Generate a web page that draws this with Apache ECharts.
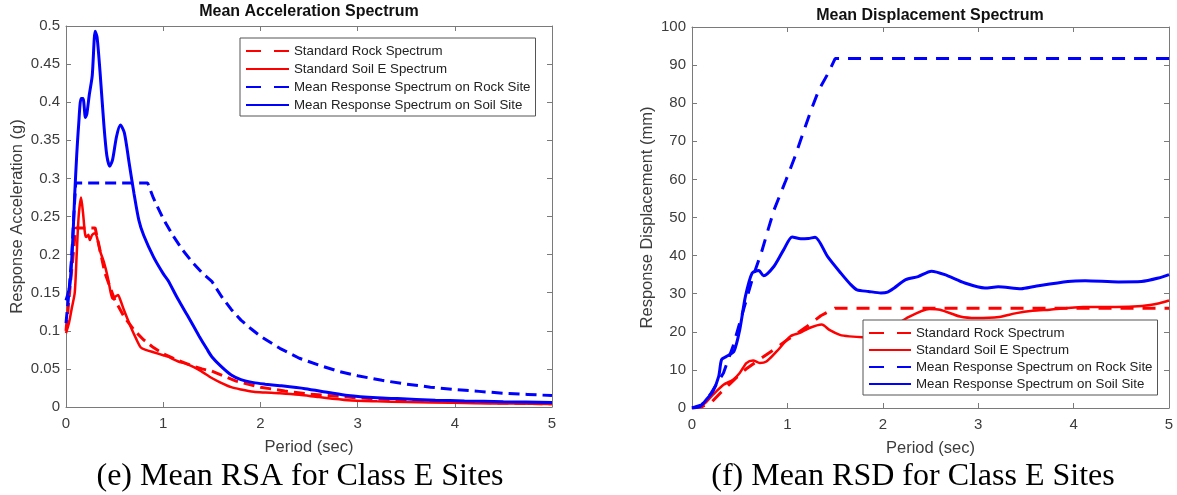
<!DOCTYPE html>
<html>
<head>
<meta charset="utf-8">
<script src="https://cdn.jsdelivr.net/npm/echarts@6/dist/echarts.min.js"></script>
<style>
  html, body { margin: 0; padding: 0; background: #fff; }
  #main { width: 1177px; height: 495px; }
</style>
</head>
<body>
<div id="main"></div>
<script>
// names of the four curves (same in both panels)
var seriesNames = ['Standard Rock Spectrum', 'Standard Soil E Spectrum',
    'Mean Response Spectrum on Rock Site', 'Mean Response Spectrum on Soil Site'];

// ---- (e) acceleration, [period s, g] ----
var accStdRock = [[0,0.100],[0.05,0.168],[0.1,0.235],[0.3,0.235],[0.4,0.176],[0.5,0.141],[0.6,0.118],
    [0.7,0.101],[0.8,0.088],[0.9,0.078],[1.0,0.070],[1.1,0.064],[1.2,0.059],[1.3,0.054],[1.4,0.050],
    [1.5,0.047],[1.75,0.034],[2.0,0.026],[2.25,0.021],[2.5,0.017],[3.0,0.012],[3.5,0.0085],
    [4.0,0.0066],[4.5,0.0052],[5.0,0.0042]];
var accStdSoil = [[0,0.097],[0.03,0.11],[0.06,0.13],[0.09,0.15],[0.11,0.2],[0.13,0.25],[0.155,0.275],
    [0.175,0.255],[0.195,0.228],[0.21,0.223],[0.23,0.226],[0.245,0.219],[0.27,0.226],[0.3,0.228],
    [0.32,0.222],[0.35,0.205],[0.39,0.19],[0.43,0.170],[0.46,0.150],[0.48,0.142],[0.51,0.145],
    [0.535,0.147],[0.56,0.14],[0.6,0.126],[0.67,0.104],[0.72,0.09],[0.77,0.078],[0.82,0.075],
    [0.91,0.0715],[1.0,0.068],[1.05,0.066],[1.15,0.060],[1.25,0.056],[1.32,0.052],[1.39,0.047],
    [1.5,0.038],[1.59,0.032],[1.7,0.026],[1.8,0.023],[1.93,0.020],[2.05,0.019],[2.2,0.018],
    [2.4,0.016],[2.6,0.013],[2.9,0.009],[3.2,0.0075],[3.5,0.0065],[3.76,0.006],[4.2,0.005],
    [4.6,0.0045],[5.0,0.004]];
var accMeanRock = [[0,0.11],[0.03,0.15],[0.06,0.2],[0.08,0.25],[0.1,0.294],[0.84,0.294],[0.9,0.274],
    [1.0,0.247],[1.1,0.225],[1.2,0.206],[1.3,0.19],[1.4,0.176],[1.5,0.165],[1.6,0.145],[1.7,0.128],
    [1.8,0.114],[1.9,0.103],[2.0,0.093],[2.2,0.077],[2.4,0.064],[2.6,0.055],[2.8,0.047],[3.0,0.041],
    [3.25,0.035],[3.5,0.030],[3.75,0.026],[4.0,0.023],[4.25,0.0205],[4.5,0.018],[4.75,0.0165],[5.0,0.015]];
var accMeanSoil = [[0,0.14],[0.04,0.16],[0.07,0.22],[0.09,0.28],[0.11,0.33],[0.13,0.37],[0.155,0.405],
    [0.175,0.405],[0.2,0.38],[0.215,0.385],[0.24,0.41],[0.27,0.435],[0.3,0.493],[0.32,0.485],
    [0.35,0.44],[0.39,0.37],[0.42,0.33],[0.45,0.316],[0.48,0.325],[0.52,0.355],[0.56,0.37],
    [0.6,0.36],[0.65,0.32],[0.7,0.28],[0.75,0.245],[0.8,0.225],[0.9,0.197],[1.0,0.175],[1.05,0.166],
    [1.15,0.142],[1.25,0.12],[1.37,0.093],[1.45,0.076],[1.5,0.066],[1.59,0.054],[1.7,0.042],
    [1.8,0.036],[1.93,0.032],[2.05,0.030],[2.2,0.028],[2.46,0.024],[2.7,0.019],[2.9,0.015],
    [3.2,0.012],[3.41,0.011],[3.8,0.009],[4.1,0.008],[4.5,0.007],[5.0,0.006]];

// ---- (f) displacement, [period s, mm] ----
var dispStdRock = [[0,0],[0.1,0.3],[0.2,1.4],[0.3,4.0],[0.4,6.4],[0.5,8.8],[0.57,10.3],[0.7,12.6],
    [0.85,15.2],[1.0,17.9],[1.2,21.3],[1.35,24.2],[1.5,26.2],[5,26.2]];
var dispStdSoil = [[0,0],[0.12,0.9],[0.22,3.5],[0.33,6.1],[0.43,7.4],[0.5,9.2],[0.57,11.8],
    [0.64,12.5],[0.71,11.8],[0.78,12.2],[0.89,14.9],[1.03,18.8],[1.13,19.7],[1.23,21.0],
    [1.36,21.9],[1.44,20.5],[1.55,19.2],[1.65,18.8],[1.79,18.6],[1.9,18.6],[2.0,19.5],[2.1,21],
    [2.25,23.6],[2.49,26.0],[2.6,25.8],[2.81,24.0],[2.98,23.6],[3.22,23.9],[3.4,24.9],[3.57,25.5],
    [3.75,25.8],[4.1,26.5],[4.44,26.5],[4.72,26.8],[4.9,27.5],[5,28.2]];
var dispMeanRock = [[0,0],[0.1,0.8],[0.19,3.5],[0.33,9.2],[0.43,16.2],[0.54,25.8],[0.64,34.5],
    [0.73,41],[0.8,47],[0.86,52],[0.98,59.5],[1.08,66],[1.17,72.6],[1.25,78.3],[1.33,83.5],
    [1.43,88],[1.5,91.7],[5,91.7]];
var dispMeanSoil = [[0,0],[0.084,0.4],[0.15,2.2],[0.22,4.4],[0.28,8.3],[0.31,12.7],[0.36,13.5],
    [0.44,14.9],[0.5,20.5],[0.56,29.3],[0.63,35.4],[0.7,36.1],[0.75,34.7],[0.86,37.2],[0.96,41.5],
    [1.05,44.9],[1.14,44.4],[1.22,44.5],[1.29,44.8],[1.42,39.8],[1.56,35.4],[1.66,32.5],[1.73,31.0],
    [1.85,30.6],[1.98,30.2],[2.05,30.4],[2.12,31.5],[2.24,33.7],[2.37,34.5],[2.51,35.9],[2.65,35.0],
    [2.86,32.8],[3.07,31.5],[3.21,31.8],[3.45,31.3],[3.59,31.9],[3.94,33.2],[4.12,33.4],[4.47,33.1],
    [4.71,33.2],[4.89,34.1],[5,35]];

var periodTicks = [0, 5, 1];     // min, max, interval
var accTicks = [0, 0.5, 0.05];
var dispTicks = [0, 100, 10];

var FONT = "'Liberation Sans', Arial, sans-serif";
var SERIF = "'Liberation Serif', 'Times New Roman', serif";
var frameColor = '#7a7a7a';
var labelColor = '#3c3c3c';

function xAx(grid, top, name) {
    return {
        type: 'value', gridIndex: grid, position: top ? 'top' : 'bottom',
        min: periodTicks[0], max: periodTicks[1], interval: periodTicks[2],
        name: top ? '' : name, nameLocation: 'middle', nameGap: 32,
        nameTextStyle: { fontFamily: FONT, fontSize: 16.5, color: labelColor },
        axisLine: { show: true, onZero: false, lineStyle: { color: frameColor, width: 1 } },
        axisTick: { show: true, inside: true, length: 5, lineStyle: { color: frameColor } },
        axisLabel: { show: !top, margin: 9, fontFamily: FONT, fontSize: 15, color: labelColor },
        splitLine: { show: false }
    };
}
function yAx(grid, right, ticks, name, gap) {
    return {
        type: 'value', gridIndex: grid, position: right ? 'right' : 'left',
        min: ticks[0], max: ticks[1], interval: ticks[2],
        name: right ? '' : name, nameLocation: 'middle', nameGap: gap,
        nameTextStyle: { fontFamily: FONT, fontSize: 16.5, color: labelColor },
        axisLine: { show: true, onZero: false, lineStyle: { color: frameColor, width: 1 } },
        axisTick: { show: true, inside: true, length: 5, lineStyle: { color: frameColor } },
        axisLabel: { show: !right, margin: 6, fontFamily: FONT, fontSize: 15, color: labelColor },
        splitLine: { show: false }
    };
}

function line(name, data, xi, yi, color, dash, width) {
    return {
        type: 'line', name: name, data: data, xAxisIndex: xi, yAxisIndex: yi,
        symbol: 'none', smooth: dash ? false : 0.25, animation: false,
        lineStyle: { color: color, width: width, type: dash || 'solid' },
        itemStyle: { color: color }
    };
}

function legendBox(left, top, gap, iw) {
    return {
        orient: 'vertical', left: left, top: top, padding: [6, 5, 4, 5],
        itemWidth: iw, itemHeight: 14, itemGap: gap,
        backgroundColor: '#fff', borderColor: '#555', borderWidth: 1, borderRadius: 0,
        selectedMode: false,
        itemStyle: { opacity: 0 },
        textStyle: { fontFamily: FONT, fontSize: 13.3, color: '#222', lineHeight: 14 },
        data: [
            { name: seriesNames[0], lineStyle: { type: [15, 13] } },
            { name: seriesNames[1] },
            { name: seriesNames[2], lineStyle: { type: [15, 13] } },
            { name: seriesNames[3] }
        ]
    };
}

var chart = echarts.init(document.getElementById('main'));
chart.setOption({
    animation: false,
    backgroundColor: '#fff',
    title: [
        { text: 'Mean Acceleration Spectrum', left: 309, top: 4, padding: 0, textAlign: 'center',
          textStyle: { fontFamily: FONT, fontSize: 16, fontWeight: 'bold', color: '#111' } },
        { text: 'Mean Displacement Spectrum', left: 930, top: 8, padding: 0, textAlign: 'center',
          textStyle: { fontFamily: FONT, fontSize: 16, fontWeight: 'bold', color: '#111' } },
        { text: '(e) Mean RSA for Class E Sites', left: 300, top: 461, padding: 0, textAlign: 'center',
          textStyle: { fontFamily: SERIF, fontSize: 32, fontWeight: 'normal', color: '#000' } },
        { text: '(f) Mean RSD for Class E Sites', left: 913, top: 461, padding: 0, textAlign: 'center',
          textStyle: { fontFamily: SERIF, fontSize: 32, fontWeight: 'normal', color: '#000' } }
    ],
    grid: [
        { left: 66, right: 625, top: 26, bottom: 88 },
        { left: 692, right: 8, top: 27, bottom: 87 }
    ],
    xAxis: [
        xAx(0, false, 'Period (sec)'), xAx(0, true),
        xAx(1, false, 'Period (sec)'), xAx(1, true)
    ],
    yAxis: [
        yAx(0, false, accTicks, 'Response Acceleration (g)', 40), yAx(0, true, accTicks),
        yAx(1, false, dispTicks, 'Response Displacement (mm)', 36), yAx(1, true, dispTicks)
    ],
    legend: [
        legendBox(240, 38, 4, 43),
        legendBox(863, 320, 3, 42)
    ],
    series: [
        line(seriesNames[0], accStdRock, 0, 0, '#ff0000', [11, 6], 3),
        line(seriesNames[1], accStdSoil, 0, 0, '#ff0000', null, 2.5),
        line(seriesNames[2], accMeanRock, 0, 0, '#0000ff', [11, 6], 3),
        line(seriesNames[3], accMeanSoil, 0, 0, '#0000ff', null, 3),
        line(seriesNames[0], dispStdRock, 2, 2, '#ff0000', [13, 9], 3),
        line(seriesNames[1], dispStdSoil, 2, 2, '#ff0000', null, 2.5),
        line(seriesNames[2], dispMeanRock, 2, 2, '#0000ff', [13, 9], 3),
        line(seriesNames[3], dispMeanSoil, 2, 2, '#0000ff', null, 3)
    ]
});
</script>
</body>
</html>
